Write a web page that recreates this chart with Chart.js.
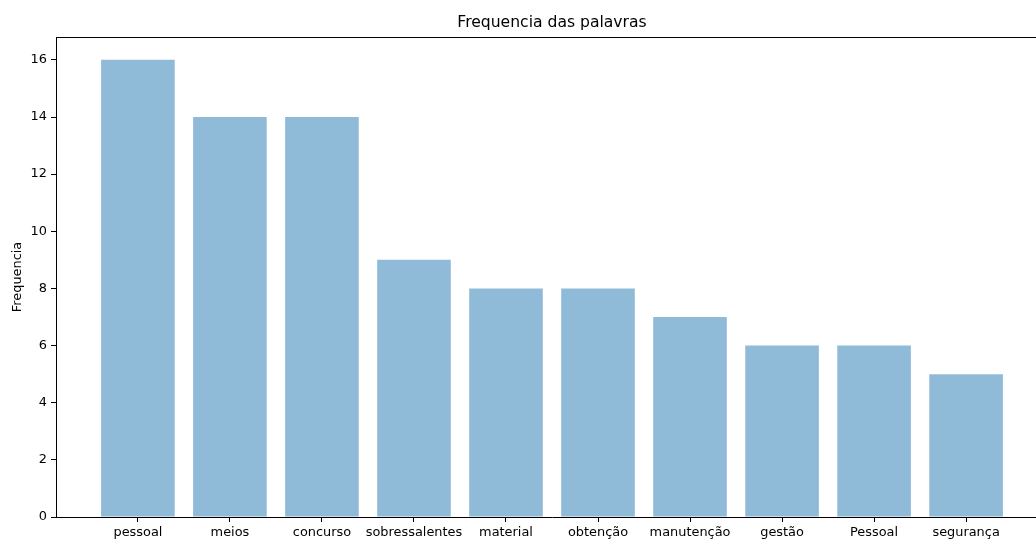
<!DOCTYPE html>
<html>
<head>
<meta charset="utf-8">
<script src="https://cdn.jsdelivr.net/npm/chart.js@4/dist/chart.umd.min.js"></script>
<style>
  html, body { margin: 0; padding: 0; background: #fff; overflow: hidden; }
  #wrap { width: 1060px; height: 541px; }
</style>
</head>
<body>
<div id="wrap"><canvas id="chart" width="1060" height="541"></canvas></div>
<script>
// words and how often they show up
const palavras = ['pessoal', 'meios', 'concurso', 'sobressalentes', 'material', 'obtenção', 'manutenção', 'gestão', 'Pessoal', 'segurança'];
const frequencias = [16, 14, 14, 9, 8, 8, 7, 6, 6, 5];
const yTicks = [0, 2, 4, 6, 8, 10, 12, 14, 16];

const FONT = 'DejaVu Sans';

// title, y label and top spine, matplotlib style
const extras = {
  id: 'extras',
  afterDraw(chart) {
    const { ctx, chartArea } = chart;
    ctx.save();
    ctx.strokeStyle = '#000';
    ctx.lineWidth = 1;
    ctx.beginPath();
    ctx.moveTo(chartArea.left, chartArea.top + 0.5);
    ctx.lineTo(chartArea.right, chartArea.top + 0.5);
    ctx.stroke();

    ctx.fillStyle = '#000';
    ctx.font = '15.6px "' + FONT + '"';
    ctx.textAlign = 'center';
    ctx.textBaseline = 'middle';
    ctx.fillText('Frequencia das palavras', (chartArea.left + chartArea.right) / 2, 22.5);

    ctx.font = '12.9px "' + FONT + '"';
    ctx.translate(18, (chartArea.top + chartArea.bottom) / 2);
    ctx.rotate(-Math.PI / 2);
    ctx.fillText('Frequencia', 0, 0);
    ctx.restore();
  }
};

new Chart(document.getElementById('chart'), {
  type: 'bar',
  data: {
    datasets: [{
      data: frequencias.map((v, i) => ({ x: i, y: v })),
      backgroundColor: 'rgba(31, 119, 180, 0.5)',
      borderWidth: 0,
      barPercentage: 0.8,
      categoryPercentage: 1.0
    }]
  },
  options: {
    responsive: false,
    animation: false,
    layout: { padding: { top: 37, right: 12, left: 0, bottom: 0 } },
    plugins: { legend: { display: false }, tooltip: { enabled: false }, title: { display: false } },
    scales: {
      x: {
        type: 'linear',
        min: -0.89,
        max: 9.89,
        offset: false,
        afterBuildTicks: (scale) => { scale.ticks = palavras.map((_, i) => ({ value: i })); },
        afterFit: (scale) => { scale.height = 24; },
        grid: { offset: false, drawOnChartArea: false, drawTicks: true, tickLength: 5, color: '#000' },
        border: { display: true, color: '#000', width: 1 },
        ticks: {
          autoSkip: false,
          maxRotation: 0,
          padding: 3,
          color: '#000',
          font: { family: FONT, size: 12.9 },
          callback: (v) => palavras[v]
        }
      },
      y: {
        min: 0,
        max: 16.8,
        afterBuildTicks: (scale) => { scale.ticks = yTicks.map(v => ({ value: v })); },
        afterFit: (scale) => { scale.width = 56; },
        grid: { drawOnChartArea: false, drawTicks: true, tickLength: 5, color: '#000' },
        border: { display: true, color: '#000', width: 1 },
        ticks: {
          padding: 4,
          color: '#000',
          font: { family: FONT, size: 12.9 }
        }
      }
    }
  },
  plugins: [extras]
});
</script>
</body>
</html>
